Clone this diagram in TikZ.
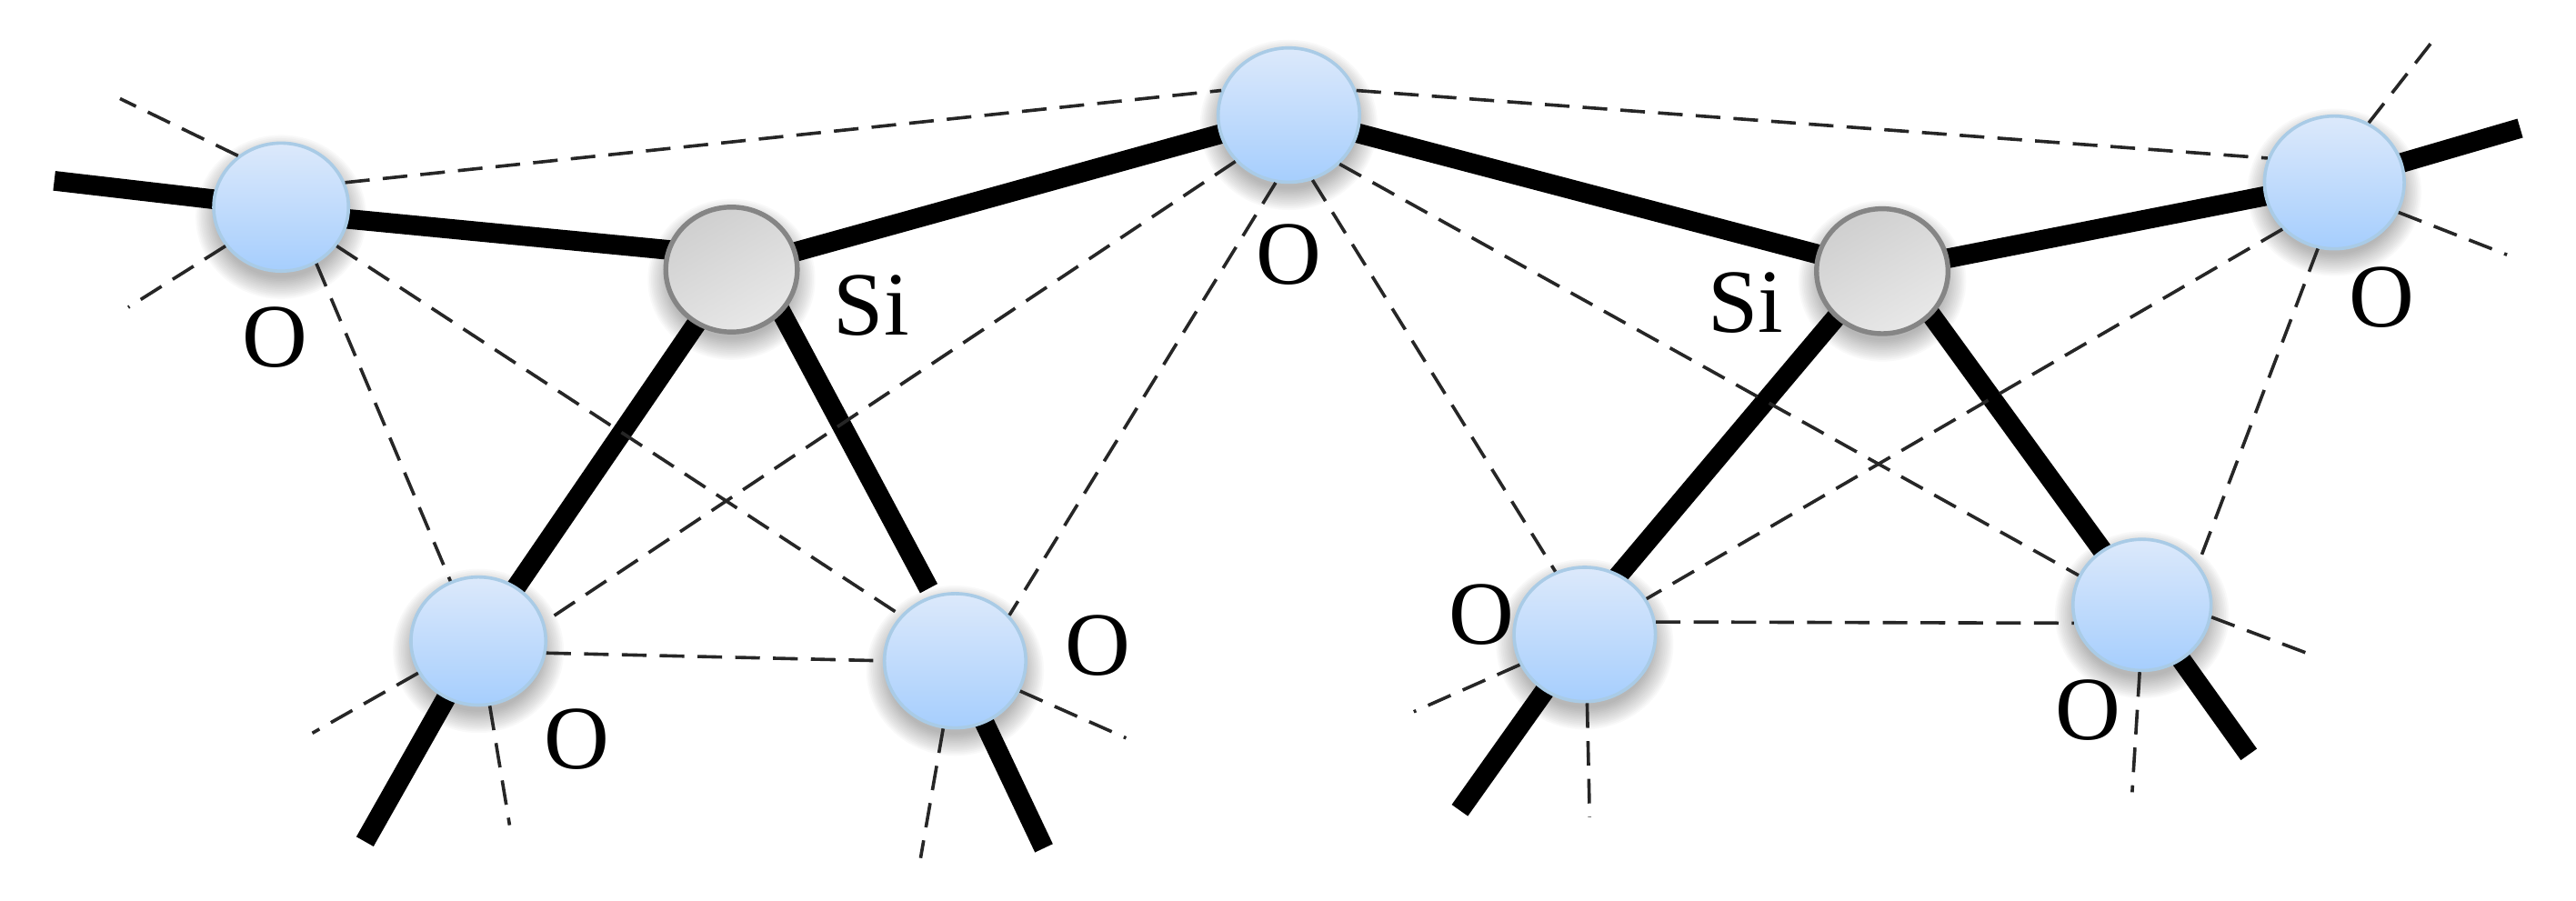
\documentclass[tikz,border=0pt]{standalone}
\usepackage{fontspec}
\setmainfont{Liberation Serif}
\usetikzlibrary{backgrounds,shapes.geometric}
\pgfdeclarelayer{shadowlayer}
\pgfsetlayers{background,shadowlayer,main}
\tikzset{
  oxygen/.style={ellipse,draw=oxborder,line width=2pt,top color=oxtop,bottom color=oxbot,minimum width=#1,minimum height=0.95*#1,inner sep=0pt},
  silicon/.style={ellipse,draw=siborder,line width=3pt,left color=sileft,right color=siright,shading angle=30,minimum width=#1,minimum height=0.95*#1,inner sep=0pt},
  bond/.style={line width=12pt,line cap=butt,black},
  weak/.style={line width=2pt,dash pattern=on 15pt off 8pt,black!85},
  lab/.style={font=\fontsize{55}{55}\selectfont,inner sep=0pt,text=black}
}
\definecolor{oxtop}{HTML}{DCE9FB}
\definecolor{oxbot}{HTML}{A6CEFD}
\definecolor{oxborder}{HTML}{A9CBE6}
\definecolor{siborder}{HTML}{858585}
\definecolor{sileft}{HTML}{CFCFCF}
\definecolor{siright}{HTML}{E8E8E8}
\newcommand{\softshadow}[3]{%
  \begin{pgfonlayer}{shadowlayer}
  \foreach \dr in {10,9,...,-3}{
    \fill[black,opacity=0.024] (#1,#2+6) ellipse ({#3+\dr} and {0.95*#3+\dr});
  }
  \end{pgfonlayer}}
\begin{document}
\begin{tikzpicture}[x=1pt,y=-1pt]
\useasboundingbox (0,0) rectangle (1567,547.6);
% shadows
\softshadow{171}{126}{42}
\softshadow{445}{164}{41}
\softshadow{784}{70}{44}
\softshadow{1145}{165}{41}
\softshadow{1420}{111}{43}
\softshadow{291}{390}{42}
\softshadow{581}{402}{44}
\softshadow{964}{386}{44}
\softshadow{1303}{368}{43}
% atoms
\node[oxygen=82pt] (o1) at (171,126) {};
\node[silicon=80pt] (si1) at (445,164) {};
\node[oxygen=86pt] (ot) at (784,70) {};
\node[silicon=80pt] (si2) at (1145,165) {};
\node[oxygen=85pt] (or) at (1420,111) {};
\node[oxygen=82pt] (bl1) at (291,390) {};
\node[oxygen=86pt] (bl2) at (581,402) {};
\node[oxygen=86pt] (br1) at (964,386) {};
\node[oxygen=84pt] (br2) at (1303,368) {};
% free ends
\coordinate (e1) at (33,110);
\coordinate (e2) at (1533,78);
\coordinate (e3) at (222,512);
\coordinate (e4) at (635,516);
\coordinate (e5) at (888,493);
\coordinate (e6) at (1368,459);
\coordinate (e7) at (565,358);
\coordinate (e8) at (1279,335);
\coordinate (s1) at (73,60);
\coordinate (s2) at (78,187);
\coordinate (s3) at (1479,26);
\coordinate (s4) at (1525,155);
\coordinate (s5) at (190,446);
\coordinate (s6) at (310,502);
\coordinate (s7) at (685,449);
\coordinate (s8) at (560,522);
\coordinate (s9) at (860,433);
\coordinate (s10) at (967,497);
\coordinate (s11) at (1405,398);
\coordinate (s12) at (1297,482);
\begin{pgfonlayer}{background}
% strong bonds
\draw[bond] (e1) -- (o1.center);
\draw[bond,shorten <=-12pt,shorten >=-12pt] (o1.-10) -- (si1.163);
\draw[bond] (si1.center) -- (ot.center);
\draw[bond] (ot.center) -- (si2.center);
\draw[bond] (si2.center) -- (or.center);
\draw[bond] (or.center) -- (e2);
\draw[bond,shorten <=-12pt,shorten >=-12pt] (si1.237) -- (bl1.55);
\draw[bond,shorten <=-12pt] (si1.-41) -- (e7);
\draw[bond,shorten <=-12pt,shorten >=-12pt] (si2.225) -- (br1.60);
\draw[bond,shorten <=-12pt] (si2.-42) -- (e8);
\draw[bond] (bl1.center) -- (e3);
\draw[bond] (bl2.center) -- (e4);
\draw[bond] (br1.center) -- (e5);
\draw[bond] (br2.center) -- (e6);
\end{pgfonlayer}
% weak links
\draw[weak] (o1.21) -- (ot.160);
\draw[weak] (ot.20) -- (or.160);
\draw[weak] (o1.-58) -- (bl1.115);
\draw[weak] (o1.-35) -- (bl2.140);
\draw[weak] (ot.221) -- (bl1.16);
\draw[weak] (ot.259) -- (bl2.40);
\draw[weak] (ot.-70) -- (br1.115);
\draw[weak] (ot.-44) -- (br2.155);
\draw[weak] (or.222) -- (br1.30);
\draw[weak] (or.256) -- (br2.36);
\draw[weak] (bl1.-10) -- (bl2.180);
\draw[weak] (br1.10) -- (br2.195);
% stubs
\draw[weak] (o1.130) -- (s1);
\draw[weak] (o1.215) -- (s2);
\draw[weak] (or.60) -- (s3);
\draw[weak] (or.-25) -- (s4);
\draw[weak] (bl1.208) -- (s5);
\draw[weak] (bl1.-80) -- (s6);
\draw[weak] (bl2.-25) -- (s7);
\draw[weak] (bl2.-100) -- (s8);
\draw[weak] (br1.205) -- (s9);
\draw[weak] (br1.-88) -- (s10);
\draw[weak] (br2.-10) -- (s11);
\draw[weak] (br2.-92) -- (s12);
% labels
\node[lab] (lo1) at (167,205) {O};
\node[lab] (lsi1) at (530,186) {Si};
\node[lab] (lot) at (784,155) {O};
\node[lab] (lsi2) at (1062,184) {Si};
\node[lab] (lor) at (1449,181) {O};
\node[lab] (lb1) at (351,450) {O};
\node[lab] (lb2) at (668,393) {O};
\node[lab] (lb3) at (901,374) {O};
\node[lab] (lb4) at (1270,432) {O};
\end{tikzpicture}
\end{document}
